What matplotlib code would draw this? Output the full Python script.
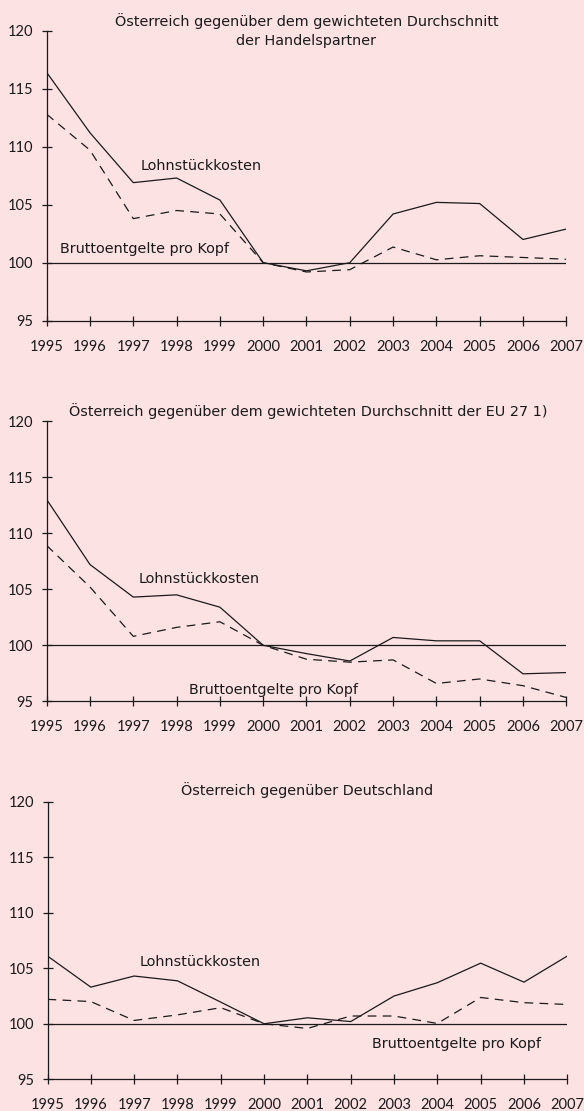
import matplotlib.pyplot as plt
import numpy as np

plt.rcParams['font.family'] = ['DejaVu Sans']

# Data
years = list(range(1995, 2008))

# Panel 1: Austria vs. weighted average of trading partners
lsk_partner = [116.4, 111.2, 106.9, 107.3, 105.4, 100.0, 99.3, 100.0, 104.2, 105.2, 105.1, 102.0, 102.9]
bek_partner = [112.8, 109.7, 103.8, 104.5, 104.2, 100.0, 99.2, 99.4, 101.35, 100.25, 100.6, 100.45, 100.3]

# Panel 2: Austria vs. weighted average of EU 27
lsk_eu27 = [113.0, 107.2, 104.3, 104.5, 103.4, 100.0, 99.26, 98.6, 100.7, 100.4, 100.4, 97.46, 97.57]
bek_eu27 = [108.9, 105.2, 100.8, 101.6, 102.1, 100.0, 98.76, 98.5, 98.7, 96.6, 97.0, 96.4, 95.35]

# Panel 3: Austria vs. Germany
lsk_de = [106.1, 103.3, 104.3, 103.87, 101.95, 100.0, 100.54, 100.2, 102.5, 103.7, 105.46, 103.75, 106.1]
bek_de = [102.2, 102.0, 100.3, 100.8, 101.45, 100.0, 99.58, 100.7, 100.7, 100.03, 102.37, 101.9, 101.74]

titles = [
    "Österreich gegenüber dem gewichteten Durchschnitt\nder Handelspartner",
    "Österreich gegenüber dem gewichteten Durchschnitt der EU 27 1)",
    "Österreich gegenüber Deutschland",
]
yticks = [95, 100, 105, 110, 115, 120]

bg = '#FDE2E4'
ink = '#1a1a1a'
tickfont = 'Lato'
textsize = 10.4

fig = plt.figure(figsize=(5.84, 11.11), dpi=100, facecolor=bg)

# axes rectangles in pixels: left, top, right, bottom
W, H = 584, 1111
rects_px = [(46.7, 30.7, 566.3, 320.7),
            (46.7, 421.0, 566.3, 701.4),
            (47.5, 801.7, 567.3, 1079.3)]

panels = [(lsk_partner, bek_partner), (lsk_eu27, bek_eu27), (lsk_de, bek_de)]

# label positions (x, y) in data coords
title_pos = [(2001, 120.0), (2001.05, 120.9), (2001.0, 121.05)]
lsk_pos = [(1997.16, 108.36), (1997.12, 105.9), (1997.12, 105.6)]
bek_pos = [(1995.3, 101.2), (1998.29, 96.0), (2002.49, 98.2)]

for i, (l, t, r, b) in enumerate(rects_px):
    ax = fig.add_axes([l / W, 1 - b / H, (r - l) / W, (b - t) / H])
    ax.set_facecolor(bg)
    lsk, bek = panels[i]

    ax.axhline(100, color=ink, lw=0.9, zorder=1)
    ax.plot(years, lsk, color=ink, lw=0.9, zorder=3)
    ax.plot(years, bek, color=ink, lw=0.9, dashes=(7, 5), zorder=3)

    ax.set_xlim(1995, 2007)
    ax.set_ylim(95, 120)
    ax.set_xticks(years)
    ax.set_yticks(yticks)
    for s in ['top', 'right']:
        ax.spines[s].set_visible(False)
    for s in ['left', 'bottom']:
        ax.spines[s].set_color(ink)
        ax.spines[s].set_linewidth(0.9)
    ax.tick_params(axis='both', direction='inout', length=7.5, width=0.9,
                   color=ink, labelcolor=ink)
    ax.tick_params(axis='x', pad=10)
    ax.tick_params(axis='y', pad=6)
    for lab in ax.get_xticklabels() + ax.get_yticklabels():
        lab.set_fontfamily(tickfont)
        lab.set_fontsize(10.5)

    tx, ty = title_pos[i]
    ax.text(tx, ty, titles[i], ha='center', va='center', fontsize=textsize,
            color=ink, linespacing=1.45, clip_on=False)
    ax.text(*lsk_pos[i], "Lohnstückkosten", ha='left', va='center',
            fontsize=textsize, color=ink)
    ax.text(*bek_pos[i], "Bruttoentgelte pro Kopf", ha='left', va='center',
            fontsize=textsize, color=ink)

fig.savefig('out.png', dpi=100, facecolor=bg)
